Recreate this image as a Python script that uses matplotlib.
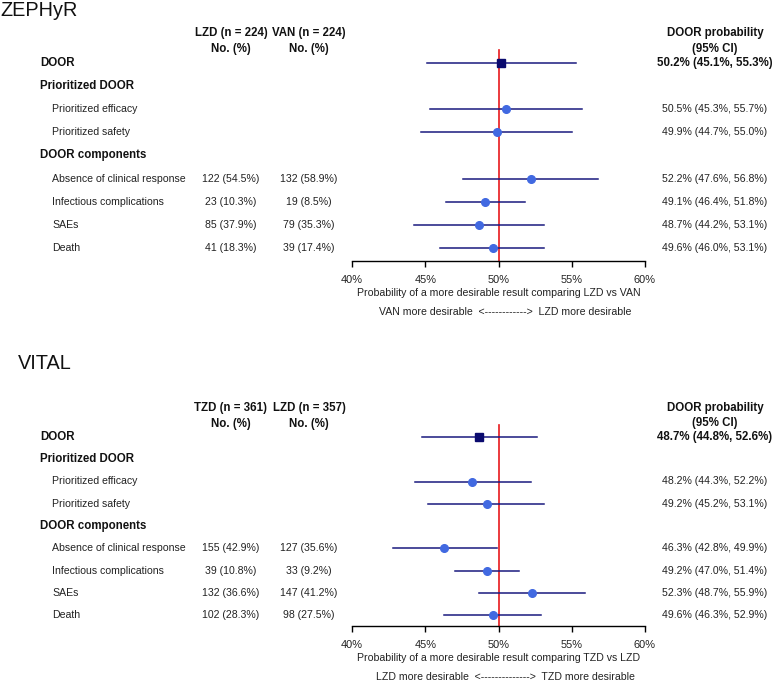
import matplotlib
matplotlib.use("Agg")
import matplotlib.pyplot as plt
from matplotlib.transforms import blended_transform_factory

plt.rcParams['font.family'] = ['Liberation Sans', 'DejaVu Sans']

W, H = 775, 682

# row labels shared by both panels
row_labels = ["DOOR", "Prioritized DOOR", "Prioritized efficacy", "Prioritized safety",
              "DOOR components", "Absence of clinical response", "Infectious complications",
              "SAEs", "Death"]
bold_rows = [0, 1, 4]
est_rows = [0, 2, 3, 5, 6, 7, 8]
count_rows = [5, 6, 7, 8]

# ZEPHyR
zep_groups = ["LZD (n = 224)", "VAN (n = 224)"]
zep_g1 = ["122 (54.5%)", "23 (10.3%)", "85 (37.9%)", "41 (18.3%)"]
zep_g2 = ["132 (58.9%)", "19 (8.5%)", "79 (35.3%)", "39 (17.4%)"]
zep_est = [50.2, 50.5, 49.9, 52.2, 49.1, 48.7, 49.6]
zep_lo = [45.1, 45.3, 44.7, 47.6, 46.4, 44.2, 46.0]
zep_hi = [55.3, 55.7, 55.0, 56.8, 51.8, 53.1, 53.1]

# VITAL
vit_groups = ["TZD (n = 361)", "LZD (n = 357)"]
vit_g1 = ["155 (42.9%)", "39 (10.8%)", "132 (36.6%)", "102 (28.3%)"]
vit_g2 = ["127 (35.6%)", "33 (9.2%)", "147 (41.2%)", "98 (27.5%)"]
vit_est = [48.7, 48.2, 49.2, 46.3, 49.2, 52.3, 49.6]
vit_lo = [44.8, 44.3, 45.2, 42.8, 47.0, 48.7, 46.3]
vit_hi = [52.6, 52.2, 53.1, 49.9, 51.4, 55.9, 52.9]

xticks = [40, 45, 50, 55, 60]
xtick_labels = ["40%", "45%", "50%", "55%", "60%"]

fig = plt.figure(figsize=(W / 100, H / 100), dpi=100)

navy = "#1a1a7e"
dot = "#4169e1"
txt = "#222222"


def px(x):
    return x / W


def panel(title, tx, ty, top_row, axis_y, spacing, groups, g1, g2, est, lo, hi, xlabel, direction):
    # axes spans x 352..645 px, rows drawn in row units
    ylim_top = -1.9
    ylim_bot = (axis_y - top_row) / spacing
    ax_top_px = top_row + ylim_top * spacing
    ax = fig.add_axes([px(352), 1 - axis_y / H, px(645 - 352), (axis_y - ax_top_px) / H])
    ax.set_xlim(40, 60)
    ax.set_ylim(ylim_bot, ylim_top)

    fig.text(px(tx), 1 - ty / H, title, fontsize=14.3, color="#111111", va="baseline", ha="left")

    # red reference line
    ax.plot([50, 50], [-0.55, ylim_bot], color="#e8191c", lw=1.2, zorder=1)

    # CIs and points
    for i in range(len(est)):
        r = est_rows[i]
        ax.plot([lo[i], hi[i]], [r, r], color=navy, lw=1.1, zorder=2)
        if i == 0:
            ax.plot(est[i], r, marker="s", ms=5.5, color="#0a0a6e", zorder=3)
        else:
            ax.plot(est[i], r, marker="o", ms=5.5, color=dot, zorder=3)

    ax.set_xticks(xticks)
    ax.set_xticklabels(xtick_labels, fontsize=7.9, color=txt)
    ax.set_yticks([])
    for s in ["top", "left", "right"]:
        ax.spines[s].set_visible(False)
    ax.spines["bottom"].set_linewidth(1.0)
    ax.tick_params(axis="x", direction="out", length=4, width=1.0, pad=6)
    ax.set_xlabel(xlabel, fontsize=7.6, color=txt, labelpad=2)
    ax.patch.set_visible(False)

    tr = blended_transform_factory(fig.transFigure, ax.transData)

    # left labels
    for r, lab in enumerate(row_labels):
        if r in bold_rows:
            ax.text(px(40), r, lab, transform=tr, fontsize=8.3, fontweight="bold",
                    color="#111111", va="center", ha="left")
        else:
            ax.text(px(52), r, lab, transform=tr, fontsize=7.6, color=txt,
                    va="center", ha="left")

    # group columns
    for cx, g, vals in [(231, groups[0], g1), (309, groups[1], g2)]:
        ax.text(px(cx), -1.32, g, transform=tr, fontsize=8.3, fontweight="bold",
                color="#111111", va="center", ha="center")
        ax.text(px(cx), -0.6, "No. (%)", transform=tr, fontsize=8.3, fontweight="bold",
                color="#111111", va="center", ha="center")
        for r, v in zip(count_rows, vals):
            ax.text(px(cx), r, v, transform=tr, fontsize=7.6, color=txt,
                    va="center", ha="center")

    # right column
    ax.text(px(715), -1.32, "DOOR probability", transform=tr, fontsize=8.3,
            fontweight="bold", color="#111111", va="center", ha="center")
    ax.text(px(715), -0.62, "(95% CI)", transform=tr, fontsize=8.3,
            fontweight="bold", color="#111111", va="center", ha="center")
    for i in range(len(est)):
        s = "%.1f%% (%.1f%%, %.1f%%)" % (est[i], lo[i], hi[i])
        if i == 0:
            ax.text(px(715), est_rows[i], s, transform=tr, fontsize=8.3,
                    fontweight="bold", color="#111111", va="center", ha="center")
        else:
            ax.text(px(715), est_rows[i], s, transform=tr, fontsize=7.6,
                    color=txt, va="center", ha="center")

    fig.text(px(505), 1 - (axis_y + 51) / H, direction, fontsize=7.6, color=txt,
             ha="center", va="center")


panel("ZEPHyR", 0, 16, 63, 261, 23.1, zep_groups, zep_g1, zep_g2, zep_est, zep_lo, zep_hi,
      "Probability of a more desirable result comparing LZD vs VAN",
      "VAN more desirable  <------------>  LZD more desirable")
panel("VITAL", 18, 369, 437, 626, 22.25, vit_groups, vit_g1, vit_g2, vit_est, vit_lo, vit_hi,
      "Probability of a more desirable result comparing TZD vs LZD",
      "LZD more desirable  <-------------->  TZD more desirable")

fig.savefig("out.png", dpi=100)
